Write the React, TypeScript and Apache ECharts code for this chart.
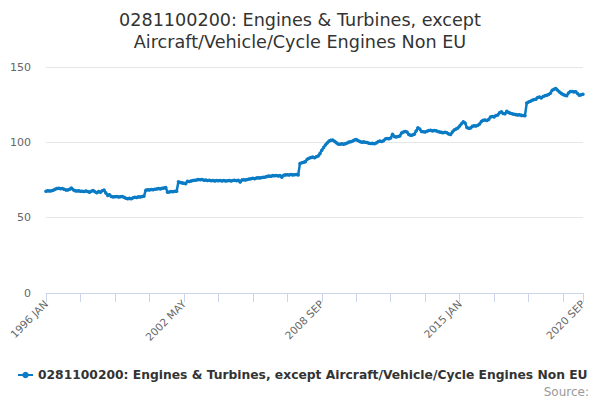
import React, { useEffect, useRef } from "react";
import * as echarts from "echarts";

const MONTHS = ["JAN", "FEB", "MAR", "APR", "MAY", "JUN", "JUL", "AUG", "SEP", "OCT", "NOV", "DEC"];
const START_YEAR = 1996;

const v1996 = [67.6, 67.8, 67.7, 67.9, 68.2, 68.9, 69.3, 69.5, 69.2, 69.4, 68.8, 68.3];
const v1997 = [68.4, 68.9, 69.6, 68.6, 67.9, 67.7, 67.8, 67.5, 67.6, 67.4, 67.7, 67.3];
const v1998 = [66.9, 67.6, 68.1, 67.2, 66.6, 67.3, 66.8, 67.9, 68.3, 66.4, 64.8, 65.2];
const v1999 = [64.1, 63.8, 63.9, 64.0, 63.7, 63.9, 64.0, 63.6, 62.9, 62.6, 62.8, 62.5];
const v2000 = [63.2, 63.6, 63.4, 63.9, 63.7, 64.1, 64.3, 68.2, 68.5, 68.4, 68.7, 68.6];
const v2001 = [68.9, 69.0, 69.3, 69.1, 69.5, 69.7, 70.0, 66.8, 67.1, 67.3, 67.2, 67.5];
const v2002 = [67.6, 73.8, 73.4, 73.1, 72.8, 72.6, 74.2, 74.0, 74.4, 74.6, 74.8, 75.0];
const v2003 = [75.3, 75.1, 75.4, 74.9, 75.0, 74.6, 74.8, 74.5, 74.7, 74.4, 74.6, 74.5];
const v2004 = [74.7, 74.4, 74.6, 74.3, 74.5, 74.7, 74.4, 74.6, 74.8, 74.5, 74.9, 73.6];
const v2005 = [75.0, 75.2, 75.0, 75.4, 75.6, 75.8, 76.1, 75.9, 76.3, 76.5, 76.4, 76.7];
const v2006 = [76.8, 77.0, 77.4, 77.6, 77.5, 77.9, 77.8, 78.0, 77.7, 77.9, 76.9, 78.2];
const v2007 = [78.4, 78.5, 78.3, 78.6, 78.4, 78.5, 78.7, 78.4, 86.0, 86.4, 86.8, 87.2];
const v2008 = [88.8, 89.4, 89.9, 90.2, 89.8, 90.5, 91.0, 92.5, 94.8, 96.5, 98.2, 99.6];
const v2009 = [100.8, 101.4, 101.6, 100.7, 99.8, 98.9, 98.7, 99.0, 98.8, 99.1, 99.6, 100.2];
const v2010 = [100.4, 100.9, 101.5, 101.8, 101.2, 100.5, 100.1, 100.3, 100.0, 99.9, 99.4, 99.2];
const v2011 = [99.3, 99.1, 99.6, 100.4, 100.8, 100.6, 101.0, 102.2, 102.6, 102.4, 102.9, 105.4];
const v2012 = [103.8, 103.5, 103.9, 104.2, 106.2, 106.8, 107.2, 106.9, 105.2, 104.7, 104.9, 105.4];
const v2013 = [107.5, 109.6, 108.8, 107.2, 107.0, 106.8, 107.4, 107.8, 108.0, 107.6, 107.9, 107.7];
const v2014 = [107.2, 106.8, 106.6, 106.4, 106.7, 106.3, 105.6, 105.2, 106.9, 108.2, 108.8, 109.5];
const v2015 = [110.8, 112.4, 113.6, 112.8, 109.8, 109.3, 109.5, 110.6, 111.0, 110.8, 111.3, 112.2];
const v2016 = [113.9, 114.6, 114.8, 114.5, 115.2, 116.8, 117.2, 116.9, 117.8, 118.2, 119.6, 120.3];
const v2017 = [119.2, 118.9, 120.6, 119.8, 119.3, 118.9, 118.6, 118.4, 118.1, 118.3, 117.9, 117.8];
const v2018 = [117.7, 126.1, 126.8, 127.3, 127.9, 128.4, 128.6, 129.8, 130.1, 129.5, 130.4, 130.9];
const v2019 = [131.2, 131.8, 132.6, 134.5, 135.2, 135.8, 134.6, 133.4, 132.5, 131.8, 131.2, 130.9];
const v2020 = [132.8, 133.7, 133.8, 133.5, 133.6, 132.4, 131.2, 131.6, 131.9];

const values = [
  ...v1996, ...v1997, ...v1998, ...v1999, ...v2000, ...v2001, ...v2002, ...v2003,
  ...v2004, ...v2005, ...v2006, ...v2007, ...v2008, ...v2009, ...v2010, ...v2011,
  ...v2012, ...v2013, ...v2014, ...v2015, ...v2016, ...v2017, ...v2018, ...v2019, ...v2020,
];

const categories = values.map((_, i) => `${START_YEAR + Math.floor(i / 12)} ${MONTHS[i % 12]}`);

const SERIES_NAME = "0281100200: Engines & Turbines, except Aircraft/Vehicle/Cycle Engines Non EU";
const TITLE = "0281100200: Engines & Turbines, except\nAircraft/Vehicle/Cycle Engines Non EU";
const Y_TICKS = [0, 50, 100, 150];
const TICK_STEP = 19;
const LABEL_STEP = 76;

const FONT = "'DejaVu Sans', sans-serif";
const BLUE = "#0a7bc4";

export default function App() {
  const ref = useRef<HTMLDivElement>(null);
  useEffect(() => {
    document.body.style.margin = "0";
    if (!ref.current) return;
    const chart = echarts.init(ref.current, null, { renderer: "svg" });
    const last = categories.length - 1;
    chart.setOption({
      animation: false,
      backgroundColor: "#ffffff",
      textStyle: { fontFamily: FONT },
      title: {
        text: TITLE,
        left: "center",
        top: 4,
        textStyle: { fontFamily: FONT, fontSize: 17.6, fontWeight: "normal", color: "#333333", lineHeight: 22 },
      },
      grid: { left: 46, right: 17, top: 67, bottom: 107, containLabel: false },
      legend: {
        left: 17,
        bottom: 19,
        padding: 0,
        itemWidth: 15,
        itemHeight: 8,
        itemGap: 6,
        textStyle: { fontFamily: FONT, fontSize: 12.3, fontWeight: "bold", color: "#333333" },
        data: [SERIES_NAME],
      },
      graphic: [
        {
          type: "text",
          right: 11,
          bottom: 2,
          style: { text: "Source:", font: `12px ${FONT}`, fill: "#999999" },
        },
      ],
      xAxis: {
        type: "category",
        data: categories,
        boundaryGap: false,
        axisLine: { lineStyle: { color: "#ccd6eb", width: 1 } },
        axisTick: {
          show: true,
          length: 9,
          lineStyle: { color: "#ccd6eb" },
          interval: (i: number) => i % TICK_STEP === 0 || i === last,
        },
        axisLabel: {
          rotate: 45,
          margin: 9,
          color: "#666666",
          fontSize: 10.5,
          fontFamily: FONT,
          interval: (i: number) => i % LABEL_STEP === 0 || i === last,
          showMaxLabel: true,
        },
        splitLine: { show: false },
      },
      yAxis: {
        type: "value",
        min: Y_TICKS[0],
        max: Y_TICKS[Y_TICKS.length - 1],
        interval: Y_TICKS[1] - Y_TICKS[0],
        axisLine: { show: false },
        axisTick: { show: false },
        axisLabel: { color: "#666666", fontSize: 11, fontFamily: FONT, margin: 15 },
        splitLine: { lineStyle: { color: "#e6e6e6", width: 1 } },
      },
      series: [
        {
          name: SERIES_NAME,
          type: "line",
          data: values,
          color: BLUE,
          lineStyle: { width: 2.5, color: BLUE },
          symbol: "circle",
          symbolSize: 3.5,
          showSymbol: true,
          showAllSymbol: true,
          itemStyle: { color: BLUE },
        },
      ],
    });
    return () => chart.dispose();
  }, []);
  return <div ref={ref} style={{ width: 600, height: 400 }} />;
}
